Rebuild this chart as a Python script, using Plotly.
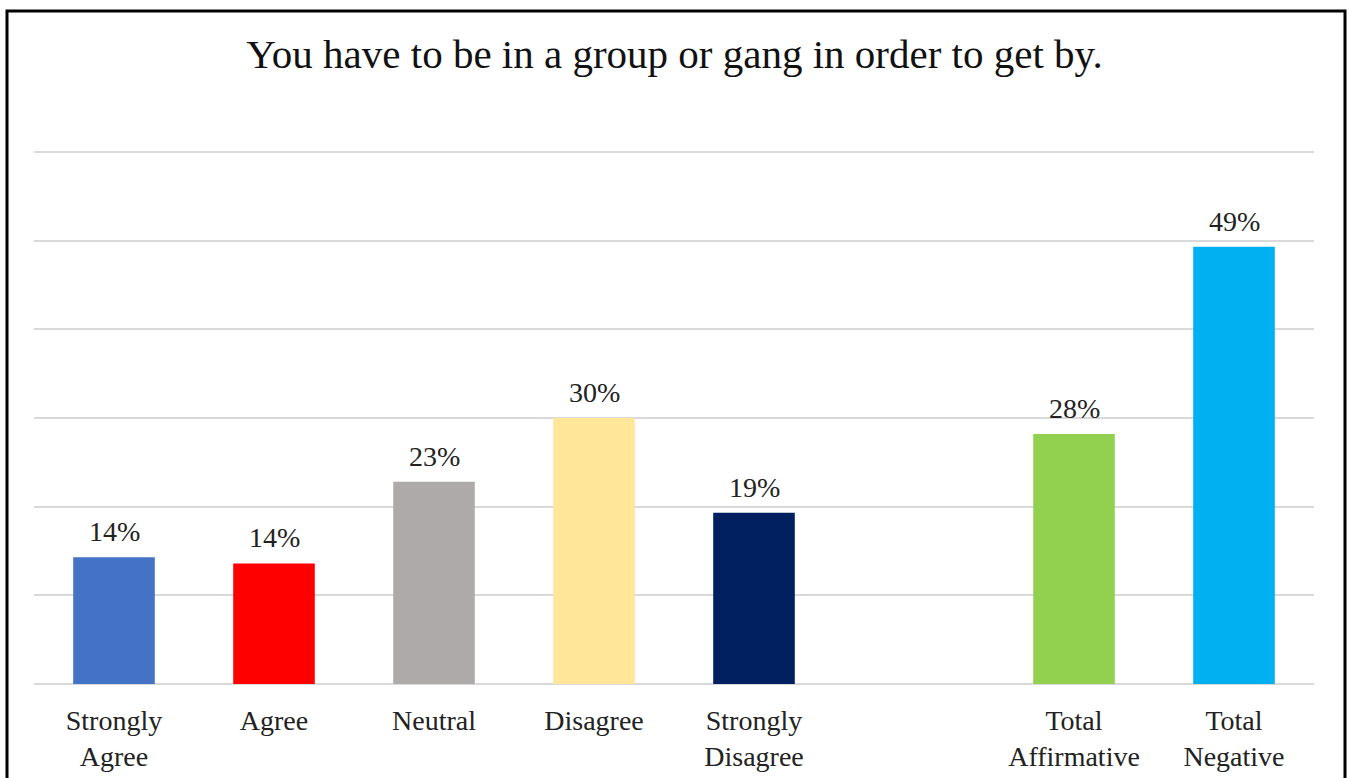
import plotly.graph_objects as go

categories = ["Strongly<br>Agree", "Agree", "Neutral", "Disagree", "Strongly<br>Disagree", " ",
              "Total<br>Affirmative", "Total<br>Negative"]
values = [14.3, 13.6, 22.8, 30.0, 19.3, None, 28.2, 49.3]
labels = ["14%", "14%", "23%", "30%", "19%", "", "28%", "49%"]
colors = ["#4472C4", "#FF0000", "#AEAAAA", "#FFE699", "#002060", "#FFFFFF", "#92D050", "#00B0F0"]
gridvals = [0, 10, 20, 30, 40, 50, 60]

FONT = "Georgia, 'Liberation Serif', serif"

fig = go.Figure(go.Bar(
    x=categories, y=values, marker=dict(color=colors, line=dict(width=0)),
    hoverinfo="skip",
))

for c, v, t in zip(categories, values, labels):
    if v is None:
        continue
    fig.add_annotation(x=c, y=v, text=t, showarrow=False, yanchor="bottom", yshift=8,
                       font=dict(family=FONT, size=28, color="#222222"))

W, H = 1349, 778
YMAX = 61
ml, mr, mb = 34, 35, 94
ph = round((H - mb - 152) * YMAX / 60)
mt = H - mb - ph
pw = W - ml - mr

def px_x(x):
    return (x - ml) / pw

def px_y(y):
    return (H - mb - y) / ph

fig.update_layout(
    width=W, height=H,
    margin=dict(l=ml, r=mr, t=mt, b=mb, autoexpand=False),
    paper_bgcolor="white", plot_bgcolor="white",
    bargap=0.49,
    showlegend=False,
    title=dict(text="You have to be in a group or gang in order to get by.",
               x=0.5, xanchor="center", y=1 - 54 / H, yanchor="middle",
               font=dict(family=FONT, size=41, color="#111111")),
    xaxis=dict(showgrid=False, showline=False, ticks="", ticklabelstandoff=17,
               automargin=False,
               tickfont=dict(family=FONT, size=28, color="#222222")),
    yaxis=dict(range=[0, YMAX], tickvals=gridvals, showgrid=True,
               gridcolor="#D9D9D9", gridwidth=2, automargin=False,
               showticklabels=False, zeroline=True, zerolinecolor="#D9D9D9", zerolinewidth=2,
               fixedrange=True),
    shapes=[dict(type="rect", xref="paper", yref="paper",
                 x0=px_x(7), x1=px_x(1345), y0=px_y(800), y1=px_y(11),
                 line=dict(color="black", width=3), fillcolor="rgba(0,0,0,0)")],
)

fig.write_html("out.html", config={"displayModeBar": False},
               post_script="document.body.style.margin='0';")
